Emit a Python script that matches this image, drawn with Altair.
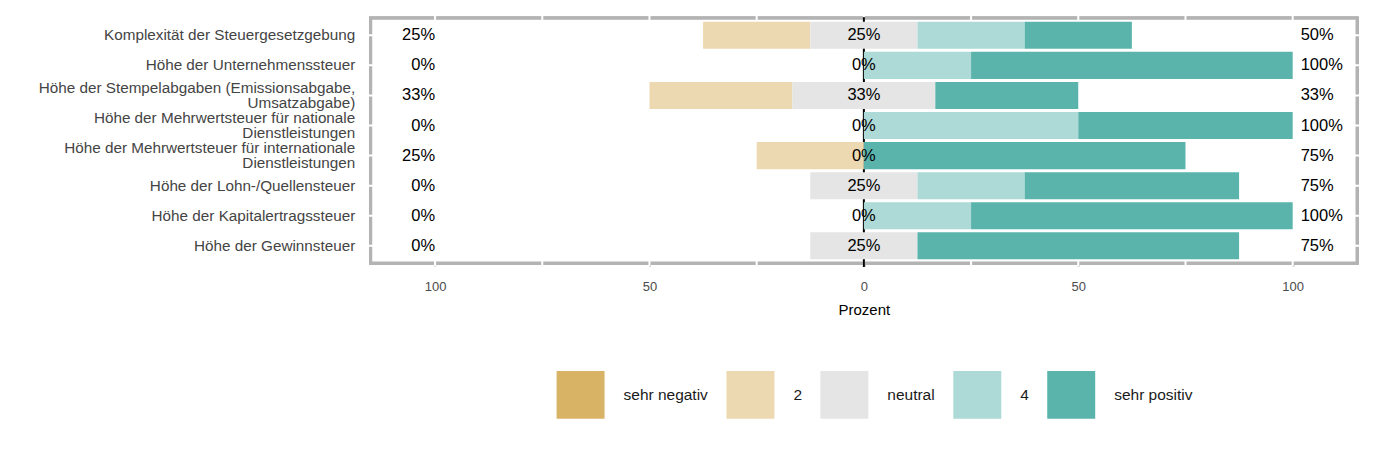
import altair as alt
import pandas as pd

items = [
    "Komplexität der Steuergesetzgebung",
    "Höhe der Unternehmenssteuer",
    "Höhe der Stempelabgaben (Emissionsabgabe,|Umsatzabgabe)",
    "Höhe der Mehrwertsteuer für nationale|Dienstleistungen",
    "Höhe der Mehrwertsteuer für internationale|Dienstleistungen",
    "Höhe der Lohn-/Quellensteuer",
    "Höhe der Kapitalertragssteuer",
    "Höhe der Gewinnsteuer",
]
levels = ["sehr negativ", "2", "neutral", "4", "sehr positiv"]
colors = ["#D8B365", "#ECD9B2", "#E5E5E5", "#ADDAD6", "#5AB4AC"]

sehr_negativ = [0, 0, 0, 0, 0, 0, 0, 0]
zwei = [25, 0, 33.33, 0, 25, 0, 0, 0]
neutral = [25, 0, 33.33, 0, 0, 25, 0, 25]
vier = [25, 25, 0, 50, 0, 25, 25, 0]
sehr_positiv = [25, 75, 33.33, 50, 75, 50, 75, 75]

x_ticks = [-100, -50, 0, 50, 100]
grid_pos = [-100, -75, -50, -25, 0, 25, 50, 75, 100]

W, H = 987, 245

rows = []
labels = []
for i, it in enumerate(items):
    n = neutral[i]
    segs = [
        ("sehr negativ", -n / 2 - zwei[i] - sehr_negativ[i], -n / 2 - zwei[i]),
        ("2", -n / 2 - zwei[i], -n / 2),
        ("neutral", -n / 2, n / 2),
        ("4", n / 2, n / 2 + vier[i]),
        ("sehr positiv", n / 2 + vier[i], n / 2 + vier[i] + sehr_positiv[i]),
    ]
    for lev, a, b in segs:
        if b - a > 0:
            rows.append({"item": it, "level": lev, "start": a, "end": b})
    labels.append({
        "item": it,
        "low": f"{round(sehr_negativ[i] + zwei[i])}%",
        "mid": f"{round(n)}%",
        "high": f"{round(vier[i] + sehr_positiv[i])}%",
        "pos_low": -100,
        "pos_mid": 0,
        "pos_high": 100,
    })

seg_df = pd.DataFrame(rows)
lab_df = pd.DataFrame(labels)
grid_df = pd.DataFrame({"g": grid_pos})
item_df = pd.DataFrame({"item": items})

FONT = "Liberation Sans"
xscale = alt.Scale(domain=[-115, 115], nice=False, zero=False)
yscale = alt.Scale(paddingInner=0.1, paddingOuter=0.12)

x_axis = alt.Axis(
    values=x_ticks,
    labelExpr="format(abs(datum.value), 'd')",
    grid=False,
    domain=False,
    ticks=True,
    tickColor="#B3B3B3",
    tickSize=3,
    tickWidth=2,
    labelPadding=15,
    labelFontSize=13,
    labelColor="#4D4D4D",
    labelFont=FONT,
    titleFont=FONT,
    titleFontSize=15,
    titleFontWeight="normal",
    titleColor="#000000",
    titlePadding=9,
)
y_axis = alt.Axis(
    labelExpr="split(datum.label, '|')",
    labelFontSize=15.3,
    labelLineHeight=15,
    labelColor="#444444",
    labelFont=FONT,
    labelLimit=500,
    labelPadding=16,
    labelOffset={"expr": "indexof(datum.value, '|') >= 0 ? -7.5 : 0"},
    ticks=False,
    domain=False,
    grid=False,
)


def X(field):
    return alt.X(field, scale=xscale, title="Prozent", axis=x_axis)


def Y(**kw):
    return alt.Y("item:N", sort=items, scale=yscale, title=None, axis=y_axis, **kw)


border = alt.Chart(item_df).mark_rect(
    fill="white", stroke="#B3B3B3", strokeWidth=3
).encode(x=alt.value(0), x2=alt.value(W), y=alt.value(0), y2=alt.value(H))

vgrid = alt.Chart(grid_df).mark_rule(color="white", strokeWidth=2).encode(
    x=X("g:Q"),
    y=alt.value(-3), y2=alt.value(H + 3),
)

hgrid = alt.Chart(item_df).mark_rule(color="white", strokeWidth=2).encode(
    y=Y(bandPosition=0.5),
    x=alt.value(-3), x2=alt.value(W + 3),
)

zero = alt.Chart(pd.DataFrame({"z": [0]})).mark_rule(color="black", strokeWidth=2).encode(
    x=X("z:Q"),
    y=alt.value(-1), y2=alt.value(H + 4),
)

bars = alt.Chart(seg_df).mark_bar(cornerRadius=0).encode(
    x=X("start:Q"),
    x2="end:Q",
    y=Y(),
    color=alt.Color(
        "level:N",
        scale=alt.Scale(domain=levels, range=colors),
        title=None,
        legend=alt.Legend(
            orient="none",
            legendX=186,
            legendY=353,
            direction="horizontal",
            symbolType="square",
            symbolSize=2304,
            symbolStrokeWidth=0,
            symbolOpacity=1,
            labelFontSize=15.5,
            labelFont=FONT,
            labelColor="#1A1A1A",
            labelOffset=19,
            columnPadding=18,
            padding=0,
        ),
    ),
)

txt_kw = dict(font=FONT, fontSize=16.5, color="#000000", baseline="middle")
low_t = alt.Chart(lab_df).mark_text(align="right", dx=0, **txt_kw).encode(
    x=X("pos_low:Q"), y=Y(bandPosition=0.5), text="low:N")
mid_t = alt.Chart(lab_df).mark_text(align="center", **txt_kw).encode(
    x=X("pos_mid:Q"), y=Y(bandPosition=0.5), text="mid:N")
high_t = alt.Chart(lab_df).mark_text(align="left", dx=8, **txt_kw).encode(
    x=X("pos_high:Q"), y=Y(bandPosition=0.5), text="high:N")

chart = alt.layer(border, vgrid, hgrid, zero, bars, low_t, mid_t, high_t).properties(
    width=W,
    height=H,
    autosize=alt.AutoSizeParams(type="none"),
    padding={"left": 363, "top": 10, "right": 12, "bottom": 180},
).configure_view(stroke=None).configure(background="white")

chart.save("out.html", embed_options={"renderer": "svg", "actions": False})
